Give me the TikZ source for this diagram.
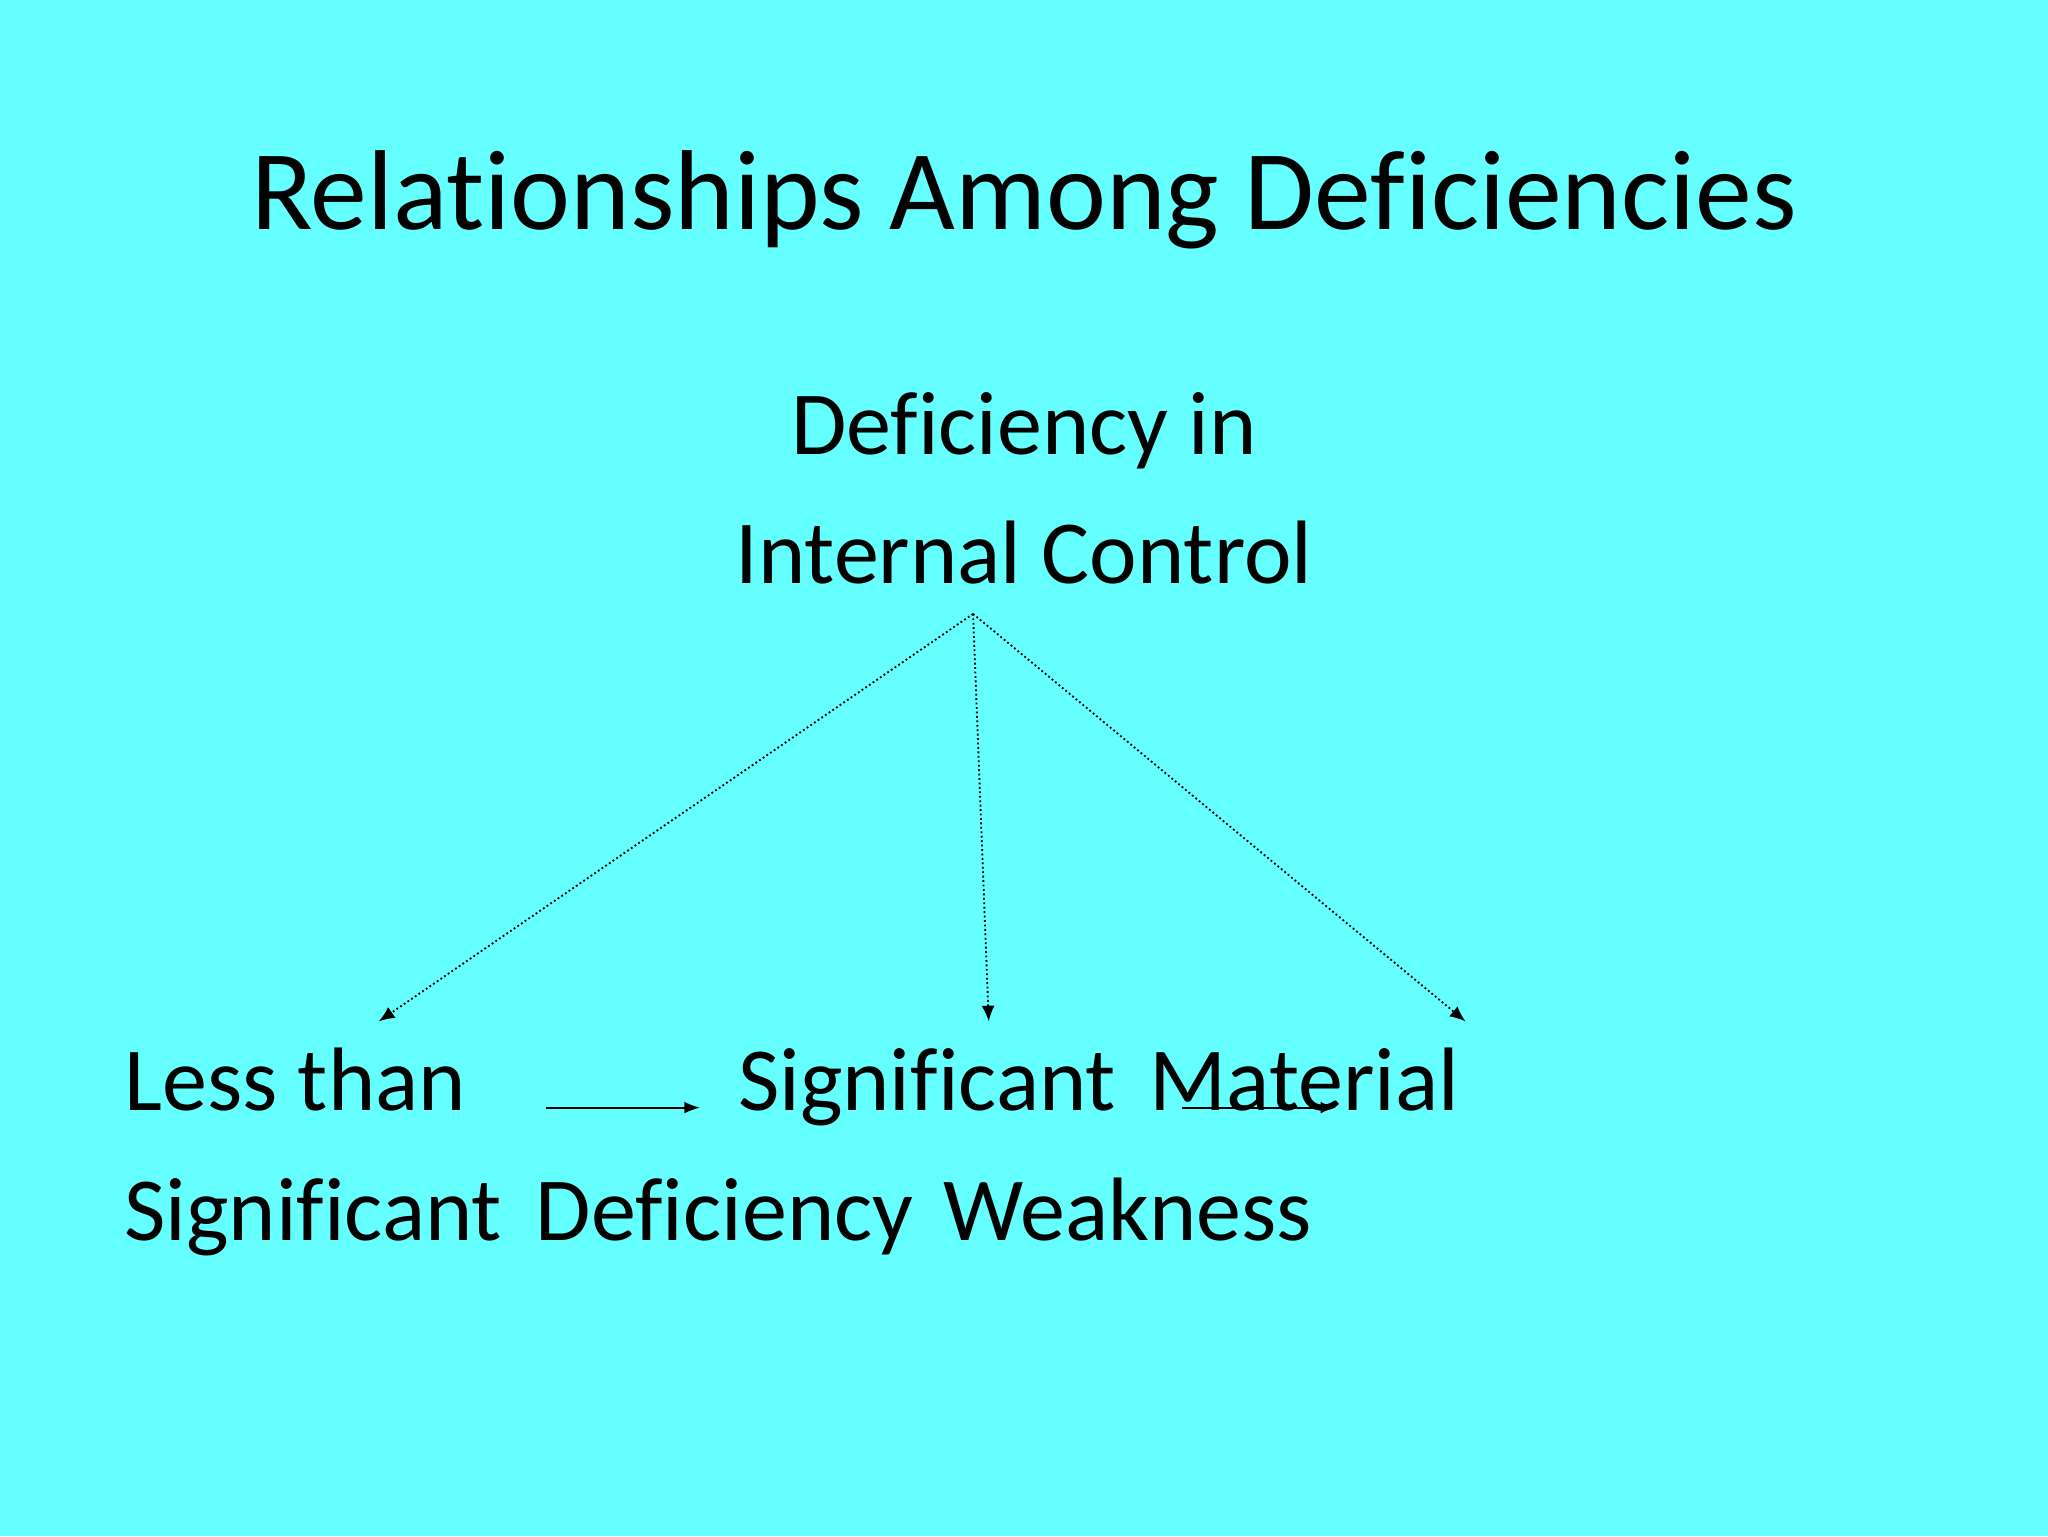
\documentclass[tikz,border=0pt]{standalone}
\usepackage{fontspec}
\setmainfont[Ligatures={NoCommon}]{Carlito}
\usetikzlibrary{arrows.meta}
\begin{document}
\begin{tikzpicture}[x=1pt,y=-1pt,
  lbl/.style={anchor=base west,inner sep=0pt,font=\fontsize{69}{69}\selectfont},
  dot/.style={dotted,line width=1.4pt,-{Latex[length=12pt,width=10pt]}},
  sol/.style={line width=1.6pt,-{Latex[length=12pt,width=9pt]}}]
\fill[fill={rgb,255:red,102;green,255;blue,255}] (0,0) rectangle (1568,1176);
\useasboundingbox (0,0) rectangle (1568,1176);
\node[anchor=base,inner sep=0pt,font=\fontsize{87}{87}\selectfont] (title) at (784,176) {Relationships Among Deficiencies};
\node[anchor=base,inner sep=0pt,font=\fontsize{69}{69}\selectfont] (d1) at (784,348) {Deficiency in};
\node[anchor=base,inner sep=0pt,font=\fontsize{69}{69}\selectfont] (d2) at (784,447) {Internal Control};
\node[lbl] (l1) at (95,850) {Less than};
\node[lbl] (l2) at (95,950) {Significant};
\node[lbl] (s1) at (565,850) {Significant};
\node[lbl] (s2) at (410,950) {Deficiency};
\node[lbl] (m1) at (880,850) {Material};
\node[lbl] (m2) at (722,950) {Weakness};
\coordinate (top) at (745,470);
\coordinate (a1) at (290,782);
\coordinate (a2) at (757,782);
\coordinate (a3) at (1122,782);
\coordinate (h1s) at (418,848); \coordinate (h1e) at (536,848);
\coordinate (h2s) at (905,848); \coordinate (h2e) at (1023,848);
\draw[dot] (top) -- (a1);
\draw[dot] (top) -- (a2);
\draw[dot] (top) -- (a3);
\draw[sol] (h1s) -- (h1e);
\draw[sol] (h2s) -- (h2e);
\end{tikzpicture}
\end{document}
